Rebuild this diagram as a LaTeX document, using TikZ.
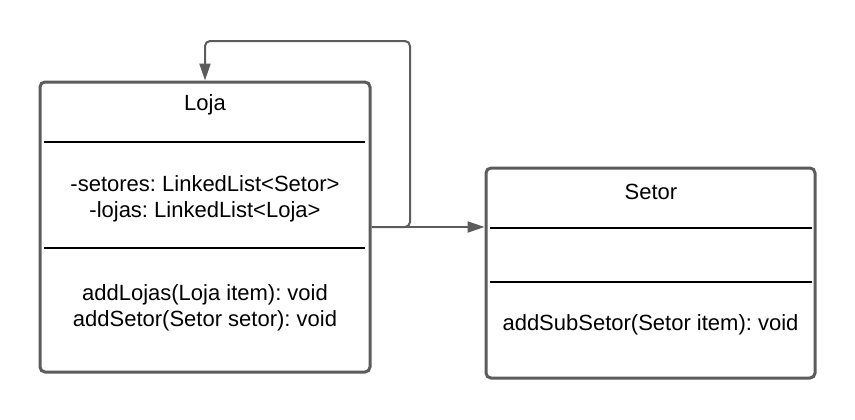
\documentclass[tikz,border=0pt]{standalone}
\usepackage{fontspec}
\setmainfont{Liberation Sans}
\usepackage{tikz}
\usetikzlibrary{arrows.meta,calc}
\definecolor{umlgray}{HTML}{5C5C5C}
\frenchspacing

\begin{document}
\begin{tikzpicture}[x=0.5pt,y=-0.5pt,
  every text node part/.style={align=center},
  classbox/.style={draw=umlgray,line width=1.5pt,rounded corners=2.5pt,inner sep=0pt},
  txt/.style={font=\fontsize{11}{13}\selectfont,inner sep=0pt},
  divider/.style={line width=0.6pt},
  conn/.style={draw=umlgray,line width=1pt,-{Triangle[length=8.5pt,width=5.5pt]}}]
			\useasboundingbox (0,0) rectangle (855,419);
			\node[classbox,minimum width=165pt,minimum height=145pt] (loja) at (205,227) {};
			\node[classbox,minimum width=164.5pt,minimum height=105pt] (setor) at (650.5,273) {};
			\node[txt] (lojaname) at (205,105) {Loja};
			\node[txt] (lojaattr) at (205,199) {-setores: LinkedList<Setor>\\-lojas: LinkedList<Loja>};
			\node[txt] (lojaops) at (205,308) {addLojas(Loja item): void\\addSetor(Setor setor): void};
			\node[txt] (setorname) at (651,192) {Setor};
			\node[txt] (setorops) at (650.5,325) {addSubSetor(Setor item): void};
			\draw[divider] (44,142) -- (365,142);
			\draw[divider] (44,248) -- (365,248);
			\draw[divider] (490,228) -- (812,228);
			\draw[divider] (490,282) -- (812,282);
			\coordinate (loop) at (410,41);
			\draw[conn,rounded corners=2.5pt] (loja.east) -| (loop) -| (loja.north);
			\draw[conn] (loja.east) -- (loja.east -| setor.west);
		\end{tikzpicture}
\end{document}
